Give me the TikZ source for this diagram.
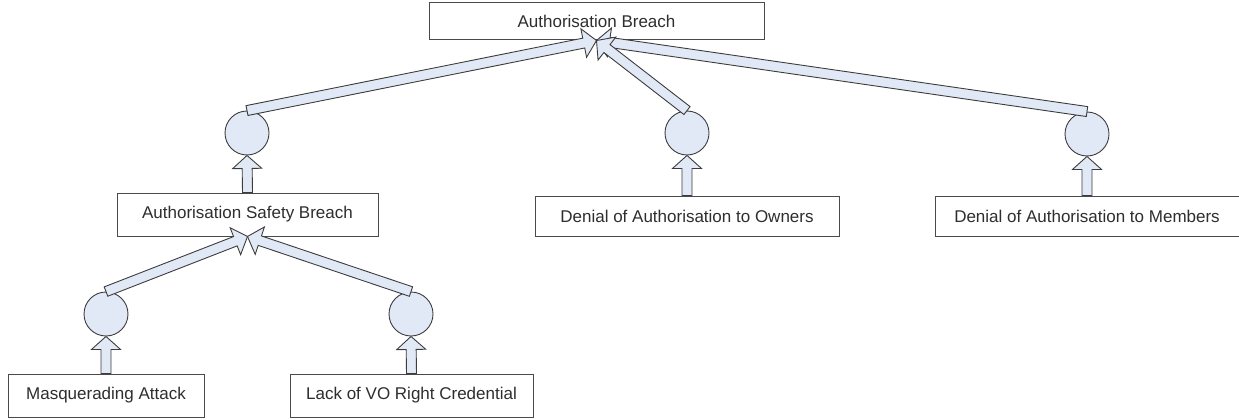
\documentclass[tikz,border=0pt]{standalone}
\usepackage{fontspec}
\setmainfont{Liberation Sans}
\usetikzlibrary{calc}
\definecolor{boxline}{HTML}{4A4A4A}
\definecolor{arrline}{HTML}{3C3C3C}
\definecolor{arrfill}{HTML}{E2E9F6}
\definecolor{textcol}{HTML}{2E2E2E}
\tikzset{
  box/.style={draw=boxline, fill=white, line width=1pt, inner sep=0pt, text=textcol,
    font=\fontsize{17}{20}\selectfont},
  gate/.style={circle, draw=arrline, fill=arrfill, line width=0.9pt, minimum size=44pt, inner sep=0pt},
  fatarr/.style={draw=arrline, fill=arrfill, line width=0.9pt, line join=miter}
}
% block arrow from #1 to #2 (tip at #2)
\newcommand\blockarr[2]{%
  \path[fatarr] let \p1=(#1), \p2=(#2),
      \n1={atan2(\y2-\y1,\x2-\x1)},
      \n2={veclen(\x2-\x1,\y2-\y1)},
      \n3={\n2-13pt}
    in ($(\p1)+(\n1-90:5pt)$)
    -- ($(\p1)+(\n1-90:5pt)+(\n1:\n3)$)
    -- ($(\p1)+(\n1-90:14.5pt)+(\n1:\n3)$)
    -- (\p2)
    -- ($(\p1)+(\n1+90:14.5pt)+(\n1:\n3)$)
    -- ($(\p1)+(\n1+90:5pt)+(\n1:\n3)$)
    -- ($(\p1)+(\n1+90:5pt)$) -- cycle;
}
\begin{document}
\begin{tikzpicture}[x=1pt,y=-1pt]
\useasboundingbox (0,0) rectangle (1239,420);
% boxes
\node[box, minimum width=335pt, minimum height=37pt] (top) at (596.5,21.5) {Authorisation Breach};
\node[box, minimum width=261pt, minimum height=43pt] (safety) at (247.5,214.5) {Authorisation Safety Breach};
\node[box, minimum width=304pt, minimum height=40pt] (owners) at (687,216) {Denial of Authorisation to Owners};
\node[box, minimum width=304pt, minimum height=40pt] (members) at (1087,216) {Denial of Authorisation to Members};
\node[box, minimum width=196pt, minimum height=43pt] (masq) at (106,395.5) {Masquerading Attack};
\node[box, minimum width=243pt, minimum height=43pt] (lack) at (411.5,395.5) {Lack of VO Right Credential};
% gates
\node[gate] (c1) at (247,133) {};
\node[gate] (c2) at (687,133) {};
\node[gate] (c3) at (1087,134) {};
\node[gate] (c4) at (106,314) {};
\node[gate] (c5) at (411,314) {};
% arrows
\blockarr{c1.north}{top.south}
\blockarr{c3.north}{top.south}
\blockarr{c2.north}{top.south}
\blockarr{safety.north}{c1.south}
\blockarr{owners.north}{c2.south}
\blockarr{members.north}{c3.south}
\blockarr{c4.north}{safety.south}
\blockarr{c5.north}{safety.south}
\blockarr{masq.north}{c4.south}
\blockarr{lack.north}{c5.south}
\end{tikzpicture}
\end{document}
